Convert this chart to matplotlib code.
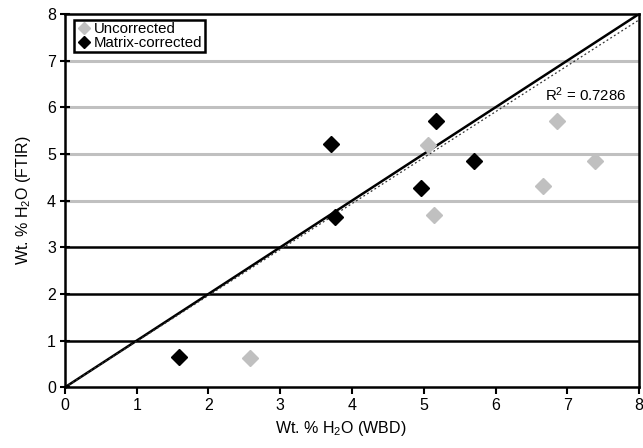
import numpy as np
import matplotlib
matplotlib.use("Agg")
import matplotlib.pyplot as plt

plt.rcParams['font.family'] = ['Liberation Sans', 'DejaVu Sans']
plt.rcParams['mathtext.fontset'] = 'custom'
plt.rcParams['mathtext.rm'] = 'Liberation Sans'
plt.rcParams['mathtext.it'] = 'Liberation Sans'

# uncorrected data (grey)
unc_wbd = [2.58, 5.06, 5.14, 6.66, 6.85, 7.39]
unc_ftir = [0.63, 5.20, 3.69, 4.31, 5.70, 4.85]

# matrix-corrected data (black)
mat_wbd = [1.59, 3.70, 3.76, 4.96, 5.17, 5.70]
mat_ftir = [0.64, 5.21, 3.65, 4.28, 5.70, 4.85]

black_lines = [1, 2, 3]
grey_lines = [4, 5, 6, 7]
r2_text = "R$^2$ = 0.7286"

fig = plt.figure(figsize=(6.43, 4.48), dpi=100)
ax = fig.add_axes([0.101, 0.1355, 0.893, 0.8335])

for y in grey_lines:
    ax.axhline(y, color='#c0c0c0', lw=2.2, zorder=1)
for y in black_lines:
    ax.axhline(y, color='black', lw=1.8, zorder=1)

# 1:1 line
ax.plot([0, 8], [0, 8], color='black', lw=1.8, zorder=2)

# trendline through origin for matrix-corrected points
mx = np.array(mat_wbd)
my = np.array(mat_ftir)
slope = np.sum(mx * my) / np.sum(mx * mx)
xs = np.array([0, 8])
ax.plot(xs, slope * xs, color='#333333', lw=0.9, ls=(0, (1.5, 2)), zorder=2)

ax.plot(unc_wbd, unc_ftir, 'D', color='#c0c0c0', ms=8, mec='#c0c0c0', label='Uncorrected', zorder=3)
ax.plot(mat_wbd, mat_ftir, 'D', color='black', ms=8, label='Matrix-corrected', zorder=3)

ax.text(6.69, 6.26, r2_text, fontsize=10.8, va='center', ha='left')

ax.set_xlim(0, 8)
ax.set_ylim(0, 8)
ax.set_xticks(range(0, 9))
ax.set_yticks(range(0, 9))
ax.tick_params(axis='x', direction='out', length=5, width=1.5, labelsize=11.5, pad=3)
ax.tick_params(axis='y', direction='inout', length=7, width=1.5, labelsize=11.5, pad=3)
for s in ax.spines.values():
    s.set_linewidth(1.8)

ax.set_xlabel('Wt. % H$_2$O (WBD)', fontsize=11.5, labelpad=5)
ax.xaxis.set_label_coords(0.48, -0.085)
ax.set_ylabel('Wt. % H$_2$O (FTIR)', fontsize=11.5, labelpad=10)

leg = ax.legend(loc='upper left', fontsize=10.8, frameon=True, fancybox=False,
                handlelength=1.0, handletextpad=0.2, borderpad=0.15,
                labelspacing=0.0, borderaxespad=0.4, markerscale=0.75,
                bbox_to_anchor=(0.005, 1.0))
leg.get_frame().set_edgecolor('black')
leg.get_frame().set_linewidth(1.8)
leg.get_frame().set_alpha(1)

fig.savefig('out.png', dpi=100)
